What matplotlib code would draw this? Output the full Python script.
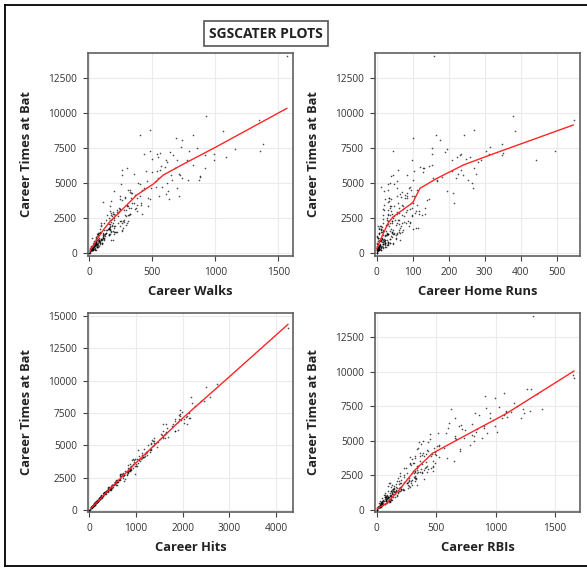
import matplotlib
matplotlib.use("Agg")
import matplotlib.pyplot as plt
from matplotlib.lines import Line2D

# career stats, one entry per player (1986 baseball data)
cr_atbat = [293, 3449, 1624, 5628, 396, 4408, 214, 509, 341, 5206, 4631, 1876, 1512, 1941, 3231, 201,
            8068, 479, 5233, 727, 413, 426, 1924, 8424, 2695, 1931, 2331, 2308, 5201, 6890, 591, 3571,
            1646, 1309, 6207, 1053, 350, 5913, 241, 232, 7318, 2516, 694, 4183, 999, 932, 756, 7099,
            2648, 6521, 226, 41, 4478, 5150, 950, 1335, 3926, 3742, 3210, 416, 6631, 1115, 926, 159,
            7546, 773, 514, 815, 4484, 8247, 244, 5347, 7761, 6661, 3651, 1258, 1313, 2174, 1064, 6677,
            6311, 2223, 1325, 5017, 3828, 6727, 428, 5409, 1350, 1457, 1810, 317, 592, 2079, 2133, 7287,
            5952, 711, 2130, 5624, 972, 1350, 2303, 5589, 994, 646, 6100, 2129, 215, 6675, 1506, 6063,
            985, 7023, 2862, 793, 6840, 3573, 2140, 6986, 8716, 1469, 1516, 5562, 4677, 1649, 3118, 2358,
            3754, 2954, 1185, 7186, 618, 639, 524, 4338, 1407, 440, 696, 1447, 4405, 7472, 3859, 2641,
            2128, 2482, 3871, 4040, 1568, 288, 278, 2964, 2744, 670, 4618, 876, 5779, 1437, 1188, 3053,
            196, 7127, 3910, 630, 2020, 1354, 450, 5590, 948, 3327, 1689, 181, 2723, 6126, 6090, 2816,
            3919, 1789, 342, 3082, 3423, 911, 1928, 279, 3006, 667, 4479, 4291, 805, 3558, 4273, 5829,
            682, 4704, 216, 1696, 2051, 216, 969, 3400, 1416, 2815, 209, 344, 1928, 1085, 638, 7292,
            1968, 498, 580, 822, 3015, 1644, 1258, 1367, 1038, 978, 4992, 4739, 1493, 1556, 5885, 540,
            4139, 2235, 14053, 1257, 1966, 354, 4933, 1394, 2796, 7058, 652, 3949, 2131, 2331, 4071, 9528,
            33, 1770, 3967, 186, 2421, 912, 5134, 2288, 3368, 312, 3358, 239, 961, 3146, 1089, 653,
            382, 5348, 549, 2682, 312, 7037, 1750, 290, 730, 680, 831, 1619, 8759, 711, 507, 1716,
            3070, 28, 3181, 2658, 2765, 1518, 1897, 888, 2364, 1337, 7402, 3162, 927, 19, 854, 1136,
            937, 4061, 2872, 1399, 9778, 1546, 4086, 3372, 8396, 1359, 3031, 1236, 2728, 2268, 1775, 2778,
            408, 593, 1063, 2703, 5511, 1700, 3198, 4908]
cr_hits = [66, 835, 457, 1575, 101, 1133, 42, 108, 86, 1332, 1300, 467, 392, 510, 825, 42,
           2273, 102, 1478, 180, 92, 109, 489, 2464, 747, 491, 604, 633, 1382, 1833, 149, 994,
           452, 308, 1906, 244, 78, 1615, 61, 50, 1926, 684, 160, 1069, 236, 273, 192, 2130,
           715, 1767, 59, 13, 1307, 1429, 231, 333, 1029, 968, 927, 113, 1634, 270, 210, 28,
           1982, 163, 120, 205, 1231, 2198, 53, 1397, 1947, 1785, 1046, 353, 338, 555, 290, 1575,
           1661, 737, 324, 1388, 948, 2024, 113, 1338, 298, 405, 471, 78, 164, 565, 594, 2083,
           1647, 184, 544, 1679, 260, 336, 571, 1632, 244, 139, 1583, 610, 51, 2095, 351, 1646,
           260, 1925, 728, 187, 1910, 866, 568, 1972, 2172, 369, 376, 1578, 1051, 453, 900, 636,
           1077, 822, 299, 2081, 129, 151, 125, 1193, 361, 103, 173, 404, 1213, 2147, 916, 671,
           543, 715, 1066, 1130, 408, 68, 86, 808, 730, 167, 1330, 238, 1610, 377, 286, 880,
           44, 2163, 979, 151, 541, 325, 108, 1397, 218, 890, 462, 58, 750, 1839, 1840, 815,
           1062, 470, 94, 880, 970, 214, 587, 64, 844, 187, 1222, 1240, 191, 928, 1123, 1552,
           185, 1320, 54, 476, 549, 58, 230, 1000, 398, 698, 54, 76, 516, 259, 170, 1954,
           519, 116, 160, 232, 834, 408, 323, 326, 271, 249, 1257, 1169, 359, 470, 1543, 135,
           1203, 602, 4256, 329, 566, 82, 1358, 344, 665, 1845, 142, 939, 583, 658, 1182, 2510,
           6, 408, 1102, 44, 656, 234, 1323, 614, 895, 68, 882, 49, 238, 902, 267, 170,
           101, 1369, 149, 667, 87, 2019, 412, 80, 185, 160, 210, 426, 2583, 148, 123, 403,
           872, 4, 841, 657, 686, 448, 493, 220, 770, 339, 1954, 874, 227, 4, 219, 256,
           238, 1145, 821, 357, 2732, 397, 1150, 1028, 2402, 355, 771, 309, 753, 566, 506, 978,
           117, 172, 283, 806, 1511, 433, 857, 1457]
cr_home = [1, 69, 63, 225, 12, 19, 1, 0, 6, 253, 90, 15, 41, 4, 36, 3,
           177, 5, 100, 24, 16, 3, 67, 164, 17, 13, 61, 32, 166, 224, 8, 215,
           44, 27, 146, 3, 5, 235, 1, 4, 46, 46, 32, 64, 21, 24, 32, 235,
           77, 281, 2, 1, 113, 166, 29, 49, 35, 35, 133, 24, 98, 1, 9, 0,
           315, 16, 8, 22, 32, 100, 12, 221, 347, 291, 32, 16, 25, 80, 11, 442,
           154, 93, 44, 266, 145, 247, 25, 181, 28, 28, 108, 7, 28, 32, 41, 305,
           60, 45, 38, 275, 14, 7, 86, 241, 36, 31, 131, 92, 4, 209, 71, 271,
           53, 348, 107, 14, 259, 59, 16, 231, 384, 12, 42, 44, 268, 73, 92, 58,
           140, 55, 40, 190, 1, 16, 7, 70, 6, 2, 38, 57, 194, 153, 23, 97,
           56, 27, 40, 97, 25, 9, 4, 81, 97, 4, 57, 2, 128, 65, 23, 32,
           2, 351, 33, 24, 52, 30, 6, 83, 6, 74, 40, 6, 126, 121, 128, 117,
           85, 65, 12, 83, 20, 64, 35, 0, 116, 9, 94, 84, 30, 102, 212, 210,
           36, 93, 2, 12, 62, 12, 14, 113, 47, 55, 3, 3, 90, 54, 17, 495,
           26, 14, 8, 19, 40, 16, 54, 55, 3, 36, 37, 13, 61, 38, 104, 30,
           79, 75, 160, 24, 29, 0, 48, 43, 43, 312, 44, 78, 69, 50, 103, 548,
           0, 115, 67, 7, 18, 12, 56, 43, 39, 2, 36, 3, 16, 74, 3, 17,
           16, 155, 7, 38, 4, 153, 100, 5, 22, 24, 21, 11, 271, 1, 8, 12,
           19, 0, 61, 48, 133, 15, 9, 9, 27, 32, 195, 16, 22, 1, 12, 42,
           9, 83, 63, 7, 379, 17, 57, 48, 242, 31, 110, 1, 69, 41, 6, 32,
           11, 22, 15, 32, 39, 7, 97, 30]
cr_rbi = [29, 414, 266, 838, 46, 336, 9, 37, 34, 890, 504, 186, 204, 103, 290, 16,
          993, 23, 658, 82, 48, 43, 251, 1072, 198, 108, 327, 182, 734, 864, 46, 652,
          208, 132, 803, 86, 29, 901, 12, 29, 627, 230, 76, 493, 117, 121, 107, 1089,
          342, 977, 32, 4, 563, 666, 138, 179, 401, 321, 472, 69, 661, 64, 69, 12,
          1179, 74, 40, 103, 344, 909, 32, 815, 1152, 949, 301, 110, 149, 274, 108, 1210,
          608, 401, 158, 822, 528, 1093, 70, 805, 123, 159, 343, 35, 110, 192, 294, 1234,
          596, 119, 174, 1015, 92, 122, 323, 926, 114, 77, 693, 319, 18, 1050, 219, 999,
          173, 1239, 401, 80, 1067, 365, 208, 955, 1267, 126, 141, 519, 782, 280, 419, 316,
          589, 377, 154, 1088, 31, 97, 37, 421, 98, 32, 130, 222, 705, 1032, 279, 383,
          268, 326, 367, 462, 185, 39, 38, 428, 351, 48, 522, 44, 741, 227, 125, 337,
          10, 1289, 324, 94, 226, 135, 46, 579, 72, 382, 195, 23, 420, 707, 900, 474,
          456, 260, 44, 477, 303, 156, 201, 26, 458, 64, 483, 430, 119, 471, 700, 840,
          112, 522, 25, 163, 263, 37, 69, 491, 203, 325, 14, 36, 288, 167, 75, 1392,
          199, 55, 33, 83, 249, 120, 177, 198, 80, 91, 386, 374, 202, 167, 714, 88,
          390, 328, 1314, 125, 252, 32, 435, 192, 304, 1128, 109, 380, 288, 322, 417, 1659,
          4, 299, 497, 16, 198, 96, 445, 273, 284, 22, 280, 13, 104, 345, 71, 54,
          55, 660, 47, 259, 32, 827, 276, 31, 106, 75, 86, 149, 1299, 56, 39, 146,
          230, 0, 342, 300, 384, 137, 162, 82, 230, 163, 919, 349, 80, 3, 99, 139,
          95, 491, 340, 161, 1652, 149, 363, 314, 1348, 148, 406, 69, 366, 257, 125, 322,
          41, 100, 124, 311, 451, 93, 420, 357]
cr_walks = [14, 375, 263, 354, 33, 194, 24, 12, 8, 866, 488, 161, 203, 207, 238, 11,
            732, 39, 653, 56, 65, 62, 240, 402, 317, 180, 166, 308, 784, 1087, 31, 337,
            136, 66, 571, 107, 18, 560, 14, 45, 483, 195, 32, 608, 118, 80, 51, 431,
            289, 619, 27, 4, 319, 526, 64, 194, 333, 170, 313, 16, 777, 57, 114, 9,
            727, 52, 39, 78, 422, 690, 55, 548, 1380, 989, 112, 117, 153, 186, 55, 608,
            820, 171, 67, 617, 635, 495, 63, 875, 122, 76, 267, 32, 71, 162, 227, 791,
            259, 99, 258, 709, 90, 106, 248, 716, 53, 61, 300, 117, 11, 695, 214, 680,
            95, 666, 224, 50, 546, 410, 93, 921, 1057, 198, 219, 256, 697, 138, 240, 134,
            263, 187, 128, 643, 48, 61, 47, 325, 111, 71, 69, 68, 625, 854, 478, 226,
            298, 158, 241, 551, 257, 35, 45, 221, 174, 54, 436, 55, 497, 82, 63, 218,
            18, 564, 382, 55, 91, 63, 28, 644, 91, 304, 82, 22, 309, 600, 917, 319,
            283, 155, 33, 295, 414, 187, 91, 30, 377, 88, 307, 340, 87, 351, 334, 452,
            50, 576, 33, 166, 153, 19, 68, 301, 136, 189, 12, 45, 161, 114, 36, 1354,
            288, 78, 44, 79, 168, 113, 157, 167, 24, 101, 387, 528, 175, 174, 535, 55,
            364, 273, 1566, 105, 178, 26, 403, 136, 198, 990, 102, 466, 150, 274, 708, 1342,
            7, 157, 284, 11, 184, 80, 459, 269, 296, 24, 165, 14, 172, 242, 76, 62,
            22, 735, 42, 204, 23, 535, 155, 15, 86, 49, 40, 163, 478, 99, 58, 155,
            274, 0, 373, 179, 321, 89, 198, 86, 193, 128, 1153, 359, 52, 1, 71, 106,
            104, 244, 174, 87, 925, 191, 406, 469, 819, 158, 239, 110, 286, 246, 194, 417,
            34, 57, 106, 138, 875, 146, 332, 249]

# loess curves
loess_walks_x = [5, 58, 111, 164, 270, 376, 508, 587, 733, 1000, 1566]
loess_walks_y = [165, 930, 1640, 2240, 3180, 4140, 4930, 5570, 6290, 7550, 10330]
loess_home_x = [0, 14, 32, 46, 92, 100, 120, 167, 241, 315, 546]
loess_home_y = [330, 1170, 2160, 2600, 3450, 3600, 4620, 5330, 6290, 7000, 9140]
loess_hits_x = [42, 500, 1000, 2000, 3000, 4256]
loess_hits_y = [150, 1850, 3650, 7100, 10300, 14350]
loess_rbi_x = [5, 84, 196, 322, 470, 728, 1093, 1659]
loess_rbi_y = [120, 480, 1520, 2890, 4100, 5300, 6980, 10040]

W, H = 587, 568
plt.rcParams["font.family"] = ["Open Sans", "DejaVu Sans"]

fig = plt.figure(figsize=(W / 100, H / 100), dpi=100)


def px_axes(left, top, right, bottom):
    return fig.add_axes([left / W, 1 - bottom / H, (right - left) / W, (bottom - top) / H])


panels = [
    ((88, 53, 293, 256), cr_walks, loess_walks_x, loess_walks_y, "Career Walks",
     (-10, 1615), (-214, 14286), [0, 500, 1000, 1500], [0, 2500, 5000, 7500, 10000, 12500]),
    ((375, 53, 580, 256), cr_home, loess_home_x, loess_home_y, "Career Home Runs",
     (-5, 565), (-214, 14286), [0, 100, 200, 300, 400, 500], [0, 2500, 5000, 7500, 10000, 12500]),
    ((88, 313, 293, 512), cr_hits, loess_hits_x, loess_hits_y, "Career Hits",
     (-28, 4365), (-155, 15235), [0, 1000, 2000, 3000, 4000], [0, 2500, 5000, 7500, 10000, 12500, 15000]),
    ((375, 313, 580, 512), cr_rbi, loess_rbi_x, loess_rbi_y, "Career RBIs",
     (-14, 1710), (-145, 14234), [0, 500, 1000, 1500], [0, 2500, 5000, 7500, 10000, 12500]),
]

for box, xs, lx, ly, xlabel, xlim, ylim, xt, yt in panels:
    ax = px_axes(*box)
    ax.scatter(xs, cr_atbat, s=1.4, c="black", alpha=0.7, linewidths=0, zorder=3)
    ax.plot(lx, ly, color="#ff2525", lw=1.0, zorder=4)
    ax.set_xlim(*xlim)
    ax.set_ylim(*ylim)
    ax.set_xticks(xt)
    ax.set_yticks(yt)
    ax.grid(True, color="#ebebeb", lw=0.8, zorder=0)
    ax.set_axisbelow(True)
    for sp in ax.spines.values():
        sp.set_color("#606060")
        sp.set_linewidth(1.2)
    ax.tick_params(direction="out", length=3.5, width=0.8, color="#404040",
                   labelsize=7.3, labelcolor="#333333", pad=4.5)
    ax.set_xlabel(xlabel, fontsize=9.3, fontweight="bold", color="#222222", labelpad=5)
    ax.set_ylabel("Career Times at Bat", fontsize=9.3, fontweight="bold", color="#222222", labelpad=11)

fig.text(266 / W, 1 - 33.5 / H, "SGSCATER PLOTS", ha="center", va="center",
         fontsize=10, fontweight="bold", color="#222222",
         bbox=dict(boxstyle="square,pad=0.4", fc="white", ec="#555555", lw=1.2))

# outer frame
for (x0, y0, x1, y1) in [(5, 5, 587, 5), (5, 5, 5, 566), (5, 566, 587, 566)]:
    fig.add_artist(Line2D([x0 / W, x1 / W], [1 - y0 / H, 1 - y1 / H], color="black", lw=1.3))

fig.savefig("out.png", dpi=100)
